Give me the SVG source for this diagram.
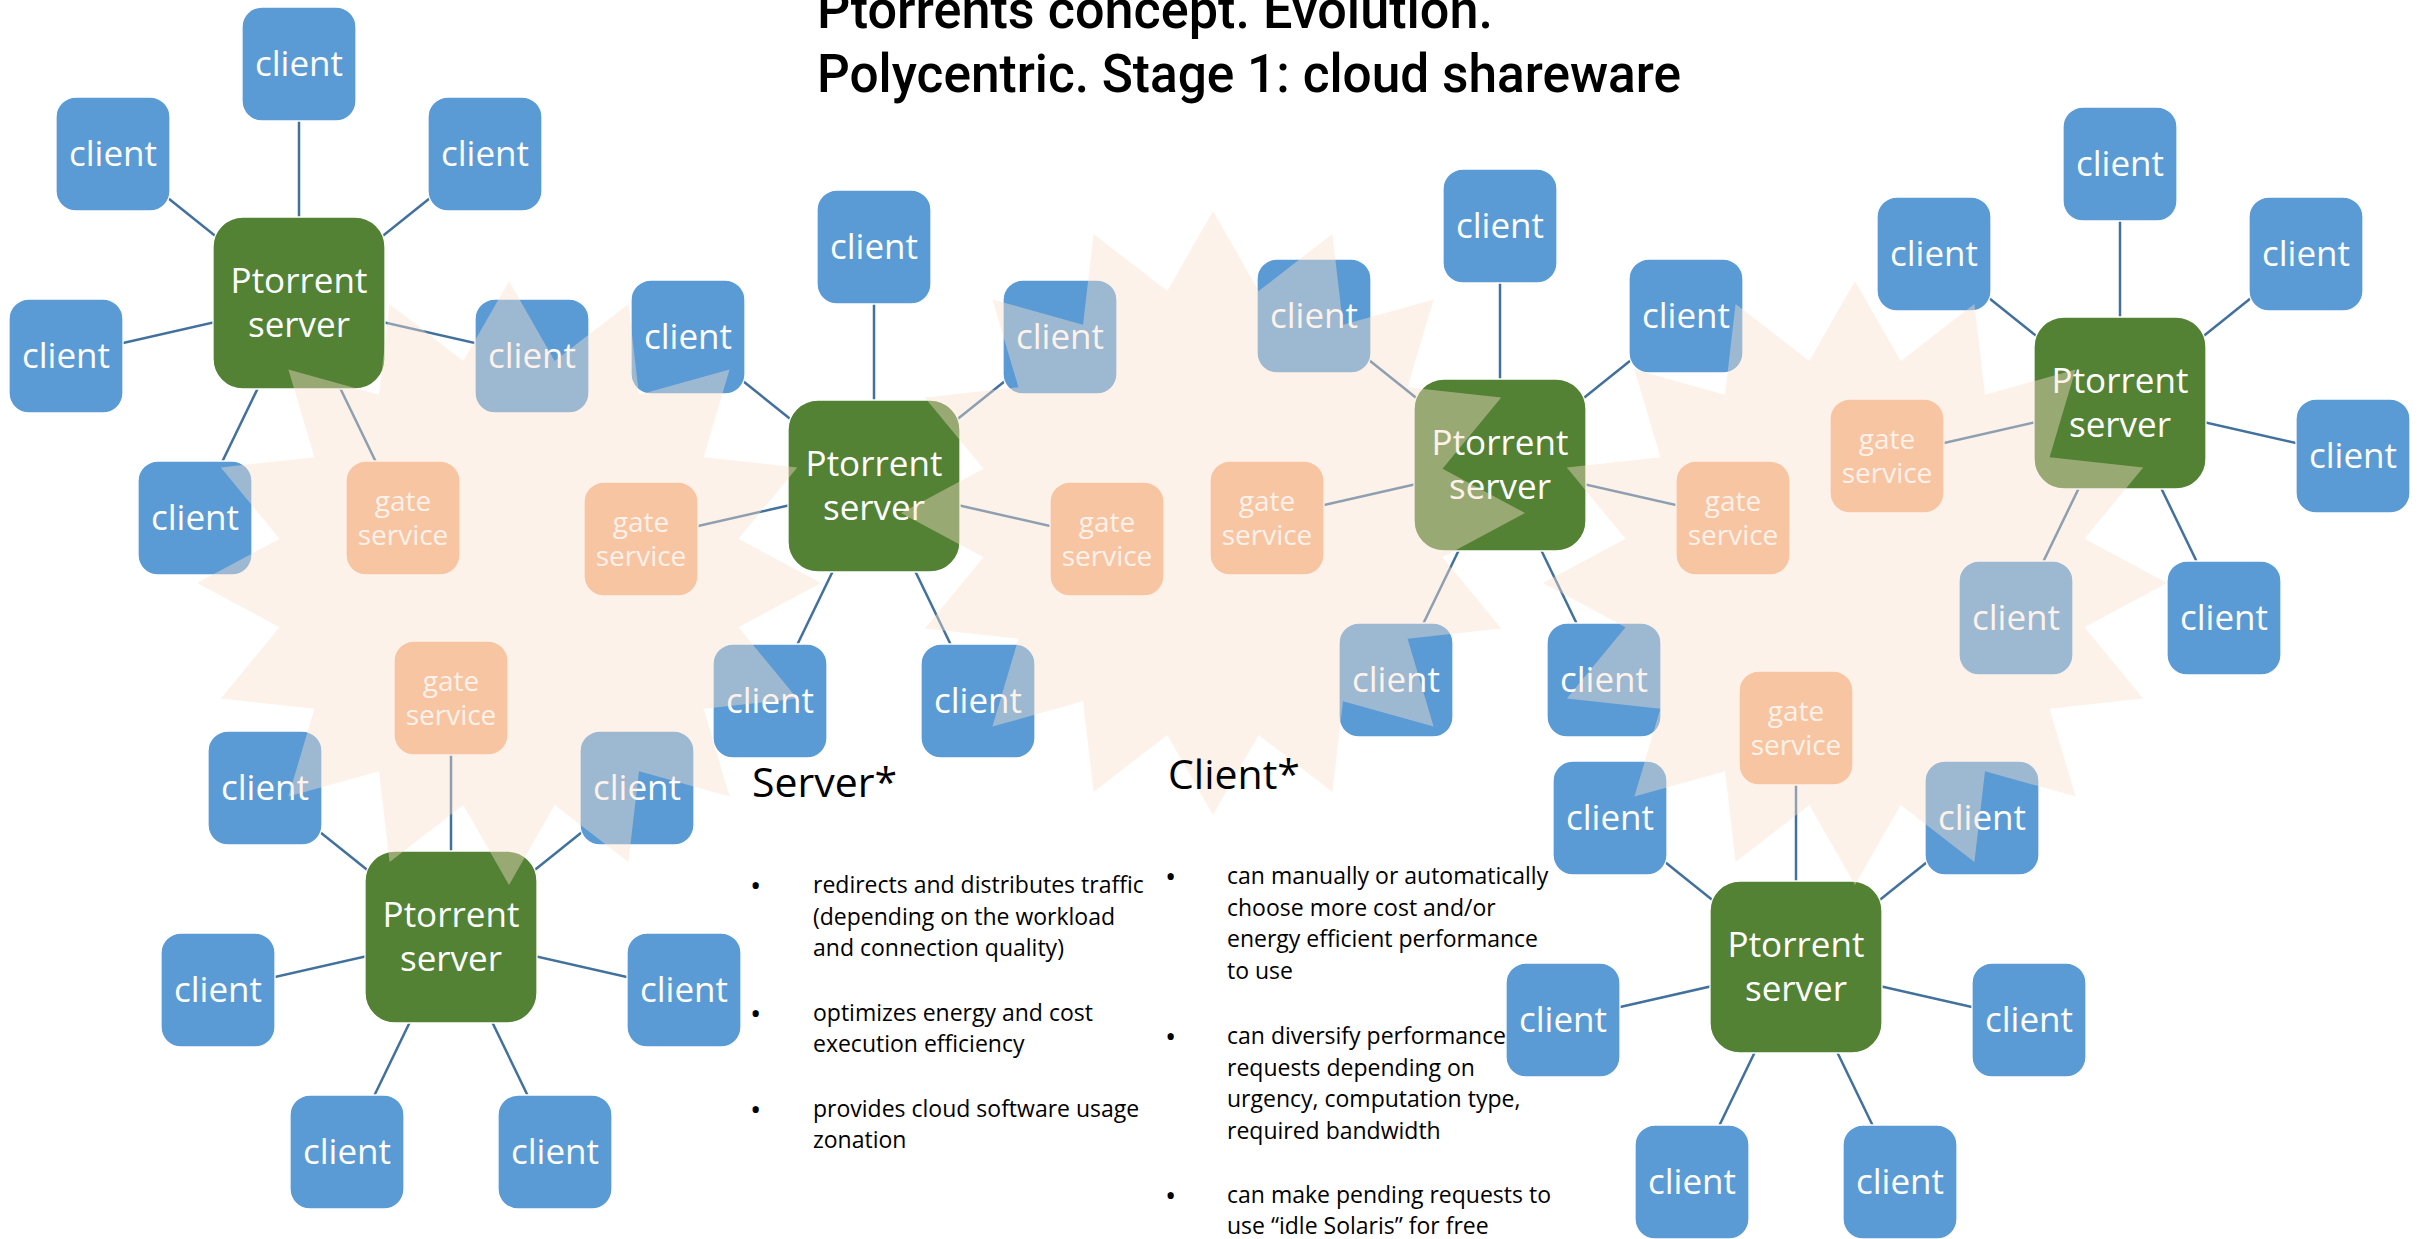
<svg xmlns="http://www.w3.org/2000/svg" width="2425" height="1239" viewBox="0 0 2425 1239">
<defs>
<style>
.client{fill:#5B9BD5;stroke:#fff;stroke-width:1.3}
.server{fill:#548235;stroke:#fff;stroke-width:1.3}
.gate{fill:#F4B183;stroke:#fff;stroke-width:1.3}
.lbl{font-family:"Open Sans","Liberation Sans",sans-serif;fill:#fff;text-anchor:middle;font-size:35px}
.glbl{font-family:"Open Sans","Liberation Sans",sans-serif;fill:#fff;text-anchor:middle;font-size:28px}
#connectors line{stroke:#41719C;stroke-width:2.5}
.star{fill:#FAE1CD;opacity:.42}
.title{font-family:Roboto,"Liberation Sans",sans-serif;font-weight:500;font-size:53px;fill:#000}
.head{font-family:"Open Sans","Liberation Sans",sans-serif;font-size:41px;fill:#000}
.body{font-family:"Open Sans","Liberation Sans",sans-serif;font-size:23px;fill:#000}
.bul{font-family:"Open Sans","Liberation Sans",sans-serif;font-size:30px;fill:#000}
</style>
<path id="star16" d="M0,-302 L45.7,-222.1 L119.4,-279 L130,-188.3 L220.6,-213.5 L194.6,-125.8 L288.2,-115.6 L229.5,-44.2 L312,0 L229.5,44.2 L288.2,115.6 L194.6,125.8 L220.6,213.5 L130,188.3 L119.4,279 L45.7,222.1 L0,302 L-45.7,222.1 L-119.4,279 L-130,188.3 L-220.6,213.5 L-194.6,125.8 L-288.2,115.6 L-229.5,44.2 L-312,0 L-229.5,-44.2 L-288.2,-115.6 L-194.6,-125.8 L-220.6,-213.5 L-130,-188.3 L-119.4,-279 L-45.7,-222.1 Z"/>
</defs>
<rect width="2425" height="1239" fill="#fff"/>

<g id="connectors">
<line x1="299" y1="303" x2="299" y2="64"/>
<line x1="299" y1="303" x2="113" y2="154"/>
<line x1="299" y1="303" x2="485" y2="154"/>
<line x1="299" y1="303" x2="66" y2="356"/>
<line x1="299" y1="303" x2="532" y2="356"/>
<line x1="299" y1="303" x2="195" y2="518"/>
<line x1="299" y1="303" x2="403" y2="518"/>

<line x1="874" y1="486" x2="874" y2="247"/>
<line x1="874" y1="486" x2="688" y2="337"/>
<line x1="874" y1="486" x2="1060" y2="337"/>
<line x1="874" y1="486" x2="641" y2="539"/>
<line x1="874" y1="486" x2="1107" y2="539"/>
<line x1="874" y1="486" x2="770" y2="701"/>
<line x1="874" y1="486" x2="978" y2="701"/>

<line x1="1500" y1="465" x2="1500" y2="226"/>
<line x1="1500" y1="465" x2="1314" y2="316"/>
<line x1="1500" y1="465" x2="1686" y2="316"/>
<line x1="1500" y1="465" x2="1267" y2="518"/>
<line x1="1500" y1="465" x2="1733" y2="518"/>
<line x1="1500" y1="465" x2="1396" y2="680"/>
<line x1="1500" y1="465" x2="1604" y2="680"/>

<line x1="2120" y1="403" x2="2120" y2="164"/>
<line x1="2120" y1="403" x2="1934" y2="254"/>
<line x1="2120" y1="403" x2="2306" y2="254"/>
<line x1="2120" y1="403" x2="1887" y2="456"/>
<line x1="2120" y1="403" x2="2353" y2="456"/>
<line x1="2120" y1="403" x2="2016" y2="618"/>
<line x1="2120" y1="403" x2="2224" y2="618"/>

<line x1="451" y1="937" x2="451" y2="698"/>
<line x1="451" y1="937" x2="265" y2="788"/>
<line x1="451" y1="937" x2="637" y2="788"/>
<line x1="451" y1="937" x2="218" y2="990"/>
<line x1="451" y1="937" x2="684" y2="990"/>
<line x1="451" y1="937" x2="347" y2="1152"/>
<line x1="451" y1="937" x2="555" y2="1152"/>

<line x1="1796" y1="967" x2="1796" y2="728"/>
<line x1="1796" y1="967" x2="1610" y2="818"/>
<line x1="1796" y1="967" x2="1982" y2="818"/>
<line x1="1796" y1="967" x2="1563" y2="1020"/>
<line x1="1796" y1="967" x2="2029" y2="1020"/>
<line x1="1796" y1="967" x2="1692" y2="1182"/>
<line x1="1796" y1="967" x2="1900" y2="1182"/>
</g>

<g id="nodes">
<!-- Cluster A -->
<g id="serverA"><rect class="server" x="213" y="217" width="172" height="172" rx="30"/><text class="lbl" x="299" y="293">Ptorrent</text><text class="lbl" x="299" y="337">server</text></g>
<g id="clientA1"><rect class="client" x="242" y="7" width="114" height="114" rx="20"/><text class="lbl" x="299" y="76">client</text></g>
<g id="clientA2"><rect class="client" x="56" y="97" width="114" height="114" rx="20"/><text class="lbl" x="113" y="166">client</text></g>
<g id="clientA3"><rect class="client" x="428" y="97" width="114" height="114" rx="20"/><text class="lbl" x="485" y="166">client</text></g>
<g id="clientA4"><rect class="client" x="9" y="299" width="114" height="114" rx="20"/><text class="lbl" x="66" y="368">client</text></g>
<g id="clientA5"><rect class="client" x="475" y="299" width="114" height="114" rx="20"/><text class="lbl" x="532" y="368">client</text></g>
<g id="clientA6"><rect class="client" x="138" y="461" width="114" height="114" rx="20"/><text class="lbl" x="195" y="530">client</text></g>
<g id="gateA"><rect class="gate" x="346" y="461" width="114" height="114" rx="20"/><text class="glbl" x="403" y="511">gate</text><text class="glbl" x="403" y="545">service</text></g>

<!-- Cluster B -->
<g id="serverB"><rect class="server" x="788" y="400" width="172" height="172" rx="30"/><text class="lbl" x="874" y="476">Ptorrent</text><text class="lbl" x="874" y="520">server</text></g>
<g id="clientB1"><rect class="client" x="817" y="190" width="114" height="114" rx="20"/><text class="lbl" x="874" y="259">client</text></g>
<g id="clientB2"><rect class="client" x="631" y="280" width="114" height="114" rx="20"/><text class="lbl" x="688" y="349">client</text></g>
<g id="clientB3"><rect class="client" x="1003" y="280" width="114" height="114" rx="20"/><text class="lbl" x="1060" y="349">client</text></g>
<g id="gateB1"><rect class="gate" x="584" y="482" width="114" height="114" rx="20"/><text class="glbl" x="641" y="532">gate</text><text class="glbl" x="641" y="566">service</text></g>
<g id="gateB2"><rect class="gate" x="1050" y="482" width="114" height="114" rx="20"/><text class="glbl" x="1107" y="532">gate</text><text class="glbl" x="1107" y="566">service</text></g>
<g id="clientB4"><rect class="client" x="713" y="644" width="114" height="114" rx="20"/><text class="lbl" x="770" y="713">client</text></g>
<g id="clientB5"><rect class="client" x="921" y="644" width="114" height="114" rx="20"/><text class="lbl" x="978" y="713">client</text></g>

<!-- Cluster C -->
<g id="serverC"><rect class="server" x="1414" y="379" width="172" height="172" rx="30"/><text class="lbl" x="1500" y="455">Ptorrent</text><text class="lbl" x="1500" y="499">server</text></g>
<g id="clientC1"><rect class="client" x="1443" y="169" width="114" height="114" rx="20"/><text class="lbl" x="1500" y="238">client</text></g>
<g id="clientC2"><rect class="client" x="1257" y="259" width="114" height="114" rx="20"/><text class="lbl" x="1314" y="328">client</text></g>
<g id="clientC3"><rect class="client" x="1629" y="259" width="114" height="114" rx="20"/><text class="lbl" x="1686" y="328">client</text></g>
<g id="gateC1"><rect class="gate" x="1210" y="461" width="114" height="114" rx="20"/><text class="glbl" x="1267" y="511">gate</text><text class="glbl" x="1267" y="545">service</text></g>
<g id="gateC2"><rect class="gate" x="1676" y="461" width="114" height="114" rx="20"/><text class="glbl" x="1733" y="511">gate</text><text class="glbl" x="1733" y="545">service</text></g>
<g id="clientC4"><rect class="client" x="1339" y="623" width="114" height="114" rx="20"/><text class="lbl" x="1396" y="692">client</text></g>
<g id="clientC5"><rect class="client" x="1547" y="623" width="114" height="114" rx="20"/><text class="lbl" x="1604" y="692">client</text></g>

<!-- Cluster D -->
<g id="serverD"><rect class="server" x="2034" y="317" width="172" height="172" rx="30"/><text class="lbl" x="2120" y="393">Ptorrent</text><text class="lbl" x="2120" y="437">server</text></g>
<g id="clientD1"><rect class="client" x="2063" y="107" width="114" height="114" rx="20"/><text class="lbl" x="2120" y="176">client</text></g>
<g id="clientD2"><rect class="client" x="1877" y="197" width="114" height="114" rx="20"/><text class="lbl" x="1934" y="266">client</text></g>
<g id="clientD3"><rect class="client" x="2249" y="197" width="114" height="114" rx="20"/><text class="lbl" x="2306" y="266">client</text></g>
<g id="gateD"><rect class="gate" x="1830" y="399" width="114" height="114" rx="20"/><text class="glbl" x="1887" y="449">gate</text><text class="glbl" x="1887" y="483">service</text></g>
<g id="clientD4"><rect class="client" x="2296" y="399" width="114" height="114" rx="20"/><text class="lbl" x="2353" y="468">client</text></g>
<g id="clientD5"><rect class="client" x="1959" y="561" width="114" height="114" rx="20"/><text class="lbl" x="2016" y="630">client</text></g>
<g id="clientD6"><rect class="client" x="2167" y="561" width="114" height="114" rx="20"/><text class="lbl" x="2224" y="630">client</text></g>

<!-- Cluster E -->
<g id="serverE"><rect class="server" x="365" y="851" width="172" height="172" rx="30"/><text class="lbl" x="451" y="927">Ptorrent</text><text class="lbl" x="451" y="971">server</text></g>
<g id="gateE"><rect class="gate" x="394" y="641" width="114" height="114" rx="20"/><text class="glbl" x="451" y="691">gate</text><text class="glbl" x="451" y="725">service</text></g>
<g id="clientE1"><rect class="client" x="208" y="731" width="114" height="114" rx="20"/><text class="lbl" x="265" y="800">client</text></g>
<g id="clientE2"><rect class="client" x="580" y="731" width="114" height="114" rx="20"/><text class="lbl" x="637" y="800">client</text></g>
<g id="clientE3"><rect class="client" x="161" y="933" width="114" height="114" rx="20"/><text class="lbl" x="218" y="1002">client</text></g>
<g id="clientE4"><rect class="client" x="627" y="933" width="114" height="114" rx="20"/><text class="lbl" x="684" y="1002">client</text></g>
<g id="clientE5"><rect class="client" x="290" y="1095" width="114" height="114" rx="20"/><text class="lbl" x="347" y="1164">client</text></g>
<g id="clientE6"><rect class="client" x="498" y="1095" width="114" height="114" rx="20"/><text class="lbl" x="555" y="1164">client</text></g>

<!-- Cluster F -->
<g id="serverF"><rect class="server" x="1710" y="881" width="172" height="172" rx="30"/><text class="lbl" x="1796" y="957">Ptorrent</text><text class="lbl" x="1796" y="1001">server</text></g>
<g id="gateF"><rect class="gate" x="1739" y="671" width="114" height="114" rx="20"/><text class="glbl" x="1796" y="721">gate</text><text class="glbl" x="1796" y="755">service</text></g>
<g id="clientF1"><rect class="client" x="1553" y="761" width="114" height="114" rx="20"/><text class="lbl" x="1610" y="830">client</text></g>
<g id="clientF2"><rect class="client" x="1925" y="761" width="114" height="114" rx="20"/><text class="lbl" x="1982" y="830">client</text></g>
<g id="clientF3"><rect class="client" x="1506" y="963" width="114" height="114" rx="20"/><text class="lbl" x="1563" y="1032">client</text></g>
<g id="clientF4"><rect class="client" x="1972" y="963" width="114" height="114" rx="20"/><text class="lbl" x="2029" y="1032">client</text></g>
<g id="clientF5"><rect class="client" x="1635" y="1125" width="114" height="114" rx="20"/><text class="lbl" x="1692" y="1194">client</text></g>
<g id="clientF6"><rect class="client" x="1843" y="1125" width="114" height="114" rx="20"/><text class="lbl" x="1900" y="1194">client</text></g>
</g>

<g id="stars">
<use href="#star16" class="star" transform="translate(509,583)"/>
<use href="#star16" class="star" transform="translate(1213,513)"/>
<use href="#star16" class="star" transform="translate(1855,583)"/>
</g>

<g id="title">
<text class="title" x="817" y="28" textLength="676" lengthAdjust="spacingAndGlyphs">Ptorrents concept. Evolution.</text>
<text class="title" x="817" y="92" textLength="864" lengthAdjust="spacingAndGlyphs">Polycentric. Stage 1: cloud shareware</text>
</g>

<g id="server-notes">
<text class="head" x="752" y="797">Server*</text>
<text class="bul" x="750" y="896">•</text>
<text class="body" x="813" y="893">redirects and distributes traffic</text>
<text class="body" x="813" y="925">(depending on the workload</text>
<text class="body" x="813" y="956">and connection quality)</text>
<text class="bul" x="750" y="1024">•</text>
<text class="body" x="813" y="1021">optimizes energy and cost</text>
<text class="body" x="813" y="1052">execution efficiency</text>
<text class="bul" x="750" y="1120">•</text>
<text class="body" x="813" y="1117">provides cloud software usage</text>
<text class="body" x="813" y="1148">zonation</text>
</g>

<g id="client-notes">
<text class="head" x="1168" y="789">Client*</text>
<text class="bul" x="1165" y="887">•</text>
<text class="body" x="1227" y="884">can manually or automatically</text>
<text class="body" x="1227" y="916">choose more cost and/or</text>
<text class="body" x="1227" y="947">energy efficient performance</text>
<text class="body" x="1227" y="979">to use</text>
<text class="bul" x="1165" y="1047">•</text>
<text class="body" x="1227" y="1044">can diversify performance</text>
<text class="body" x="1227" y="1076">requests depending on</text>
<text class="body" x="1227" y="1107">urgency, computation type,</text>
<text class="body" x="1227" y="1139">required bandwidth</text>
<text class="bul" x="1165" y="1206">•</text>
<text class="body" x="1227" y="1203">can make pending requests to</text>
<text class="body" x="1227" y="1234">use “idle Solaris” for free</text>
</g>
</svg>
